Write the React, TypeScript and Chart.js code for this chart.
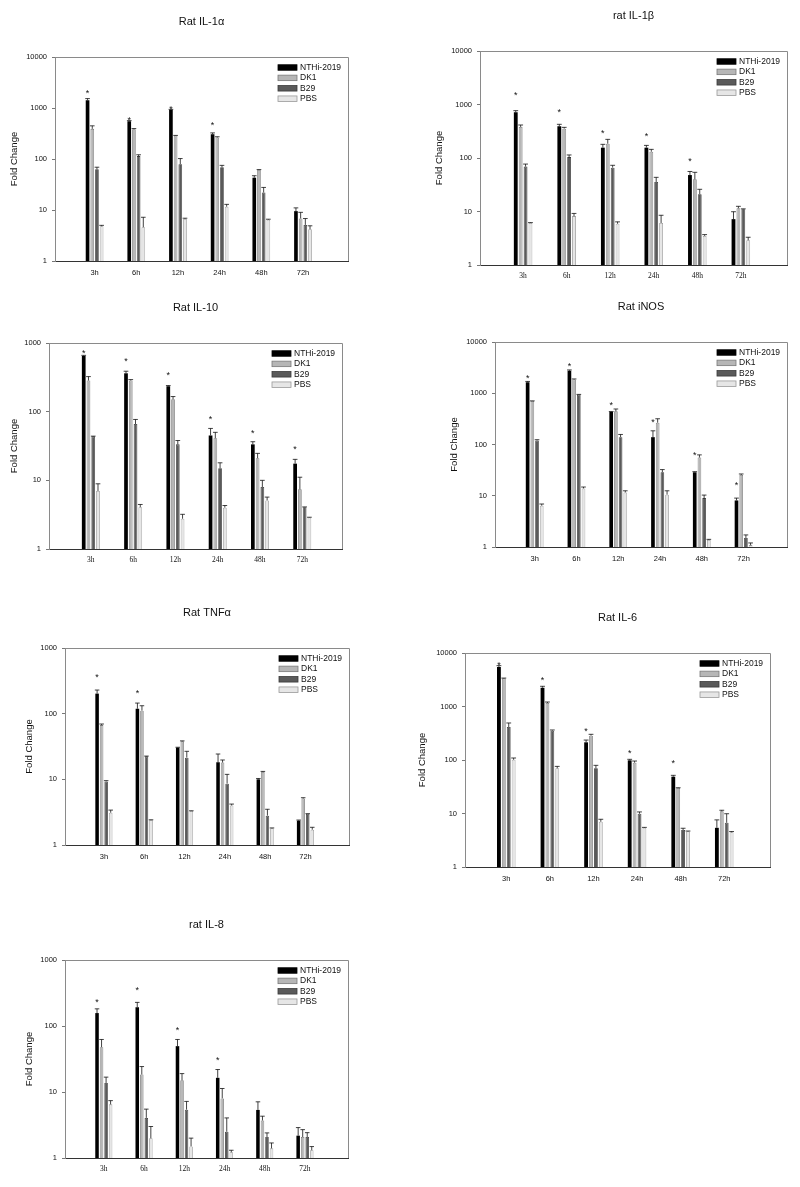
import React, { useEffect, useRef } from 'react';
import { Chart, registerables } from 'chart.js';

Chart.register(...registerables);

// ---------- shared labels ----------
const timeLabels = ['3h', '6h', '12h', '24h', '48h', '72h'];
const seriesNames = ['NTHi-2019', 'DK1', 'B29', 'PBS'];
const ticks4 = [1, 10, 100, 1000, 10000];
const ticks3 = [1, 10, 100, 1000];

// ---------- Rat IL-1α ----------
const il1aNTHi = [1420, 550, 920, 306, 43, 9.5];
const il1aDK1 = [390, 384, 288, 264, 61, 6.8];
const il1aB29 = [63, 114, 79, 69, 22, 5.1];
const il1aPBS = [4.8, 4.6, 6.7, 11.6, 6.45, 4.2];
const il1aNTHiErr = [1530, 565, 940, 325, 47, 11];
const il1aDK1Err = [447, 395, 290, 273, 62, 9];
const il1aB29Err = [69, 121, 102, 75, 27.7, 6.8];
const il1aPBSErr = [5, 7.2, 6.9, 12.9, 6.6, 4.9];
const il1aStars = [2225, 640, 1066, 511, null, null];

// ---------- rat IL-1β ----------
const il1bNTHi = [714, 391, 156, 156, 48, 7.2];
const il1bDK1 = [380, 354, 185, 131, 40, 11.5];
const il1bB29 = [69, 104, 66, 35.6, 21, 11];
const il1bPBS = [6.1, 8.2, 5.9, 6.1, 3.5, 2.9];
const il1bNTHiErr = [767, 426, 180, 172, 56, 9.9];
const il1bDK1Err = [414, 374, 223, 145, 54, 12.5];
const il1bB29Err = [77, 114, 73, 43.5, 26, 11.2];
const il1bPBSErr = [6.2, 9.2, 6.4, 8.5, 3.7, 3.3];
const il1bStars = [1640, 800, 329, 289, 97, null];

// ---------- Rat IL-10 ----------
const il10NTHi = [647, 362, 235, 45, 33.4, 17.5];
const il10DK1 = [284, 284, 152, 41, 21, 7.4];
const il10B29 = [43.7, 66, 33.4, 15, 8.0, 4.07];
const il10PBS = [7.0, 4.07, 2.76, 4.0, 5.1, 2.88];
const il10NTHiErr = [661, 388, 240, 57, 36.5, 20.2];
const il10DK1Err = [324, 293, 166, 50, 24.7, 11.1];
const il10B29Err = [44, 77, 38, 18, 10, 4.1];
const il10PBSErr = [8.9, 4.45, 3.2, 4.3, 5.7, 2.9];
const il10Stars = [782, 598, 366, 84, 53, 31];

// ---------- Rat iNOS ----------
const inosNTHi = [1644, 2741, 430, 139, 28.7, 8.1];
const inosDK1 = [707, 1854, 444, 266, 55.6, 25.4];
const inosB29 = [120, 942, 139, 28.7, 9.0, 1.5];
const inosPBS = [6.4, 13.9, 11.6, 10.5, 1.37, 1.09];
const inosNTHiErr = [1700, 2850, 440, 185, 29.5, 9.0];
const inosDK1Err = [710, 1900, 493, 318, 62.7, 26.6];
const inosB29Err = [124, 950, 157, 32.4, 10.3, 1.72];
const inosPBSErr = [6.9, 14.8, 12.5, 12.5, 1.41, 1.2];
const inosStars = [2187, 3820, 666, 309, 68.7, 18];

// ---------- Rat TNFα ----------
const tnfNTHi = [202, 119, 30.4, 18.2, 10, 2.35];
const tnfDK1 = [67, 111, 37.9, 18, 12.9, 5.1];
const tnfB29 = [9.3, 22.4, 21.4, 8.6, 2.8, 3.0];
const tnfPBS = [3.1, 2.4, 3.3, 4.0, 1.8, 1.71];
const tnfNTHiErr = [229, 145, 30.8, 24.3, 10.3, 2.4];
const tnfDK1Err = [69.6, 132, 38.5, 19.7, 13.2, 5.25];
const tnfB29Err = [9.55, 22.6, 26.7, 11.9, 3.5, 3.0];
const tnfPBSErr = [3.4, 2.42, 3.32, 4.2, 1.82, 1.86];
const tnfStars = [393, 224, null, null, null, null];

// ---------- Rat IL-6 ----------
const il6NTHi = [5476, 2250, 214, 98.6, 48.8, 5.4];
const il6DK1 = [3360, 1162, 285, 89, 30, 11];
const il6B29 = [414, 353, 70, 9.9, 4.9, 6.7];
const il6PBS = [101, 70, 7.0, 5.4, 4.6, 4.45];
const il6NTHiErr = [5800, 2385, 236, 103, 51.7, 7.6];
const il6DK1Err = [3400, 1213, 302, 95.7, 30.3, 11.5];
const il6B29Err = [492, 364, 79.5, 10.7, 5.3, 9.9];
const il6PBSErr = [109, 76, 7.8, 5.5, 4.7, 4.6];
const il6Stars = [6690, 3510, 380, 149, 98.6, null];

// ---------- rat IL-8 ----------
const il8NTHi = [157, 193, 49.5, 16.4, 5.35, 2.18];
const il8DK1 = [47.8, 18.4, 15.1, 8.0, 3.7, 2.08];
const il8B29 = [13.7, 4.05, 5.4, 2.5, 2.08, 2.08];
const il8PBS = [6.5, 1.99, 1.5, 1.22, 1.4, 1.31];
const il8NTHiErr = [182, 228, 62.5, 21.9, 7.1, 2.89];
const il8DK1Err = [62.5, 24.3, 19, 11.3, 4.3, 2.69];
const il8B29Err = [16.8, 5.5, 7.2, 4.05, 2.4, 2.42];
const il8PBSErr = [7.4, 3.0, 2.0, 1.31, 1.69, 1.49];
const il8Stars = [250, 384, 93, 33.3, null, null];

// ---------- styles ----------
const SANS = '"Liberation Sans", Arial, sans-serif';
const SERIF = '"Liberation Serif", "Times New Roman", serif';
const fills = ['#000000', '#b6b6b6', '#5a5a5a', '#e6e6e6'];
const borders = ['#000000', '#7a7a7a', '#3a3a3a', '#9a9a9a'];

type Area = { l: number; t: number; r: number; b: number };
type PanelDef = {
  title: string;
  vals: number[][];
  errs: number[][];
  stars: (number | null)[];
  yTicks: number[];
  xRange: [number, number];
  area: Area;
  xFont: string;
  yTitleGap: number;
};

const PANELS: PanelDef[] = [
  {
    title: 'Rat IL-1\u03b1',
    vals: [il1aNTHi, il1aDK1, il1aB29, il1aPBS],
    errs: [il1aNTHiErr, il1aDK1Err, il1aB29Err, il1aPBSErr],
    stars: il1aStars, yTicks: ticks4, xRange: [-0.95, 6.08],
    area: { l: 55, t: 57, r: 348, b: 261 }, xFont: SANS, yTitleGap: 41,
  },
  {
    title: 'rat IL-1\u03b2',
    vals: [il1bNTHi, il1bDK1, il1bB29, il1bPBS],
    errs: [il1bNTHiErr, il1bDK1Err, il1bB29Err, il1bPBSErr],
    stars: il1bStars, yTicks: ticks4, xRange: [-0.99, 6.06],
    area: { l: 480, t: 51, r: 787, b: 265 }, xFont: SERIF, yTitleGap: 41,
  },
  {
    title: 'Rat IL-10',
    vals: [il10NTHi, il10DK1, il10B29, il10PBS],
    errs: [il10NTHiErr, il10DK1Err, il10B29Err, il10PBSErr],
    stars: il10Stars, yTicks: ticks3, xRange: [-0.99, 5.94],
    area: { l: 49, t: 343, r: 342, b: 549 }, xFont: SERIF, yTitleGap: 35,
  },
  {
    title: 'Rat iNOS',
    vals: [inosNTHi, inosDK1, inosB29, inosPBS],
    errs: [inosNTHiErr, inosDK1Err, inosB29Err, inosPBSErr],
    stars: inosStars, yTicks: ticks4, xRange: [-0.95, 6.04],
    area: { l: 495, t: 342, r: 787, b: 547 }, xFont: SANS, yTitleGap: 41,
  },
  {
    title: 'Rat TNF\u03b1',
    vals: [tnfNTHi, tnfDK1, tnfB29, tnfPBS],
    errs: [tnfNTHiErr, tnfDK1Err, tnfB29Err, tnfPBSErr],
    stars: tnfStars, yTicks: ticks3, xRange: [-0.965, 6.08],
    area: { l: 65, t: 648, r: 349, b: 845 }, xFont: SANS, yTitleGap: 36,
  },
  {
    title: 'Rat IL-6',
    vals: [il6NTHi, il6DK1, il6B29, il6PBS],
    errs: [il6NTHiErr, il6DK1Err, il6B29Err, il6PBSErr],
    stars: il6Stars, yTicks: ticks4, xRange: [-0.947, 6.05],
    area: { l: 465, t: 653, r: 770, b: 867 }, xFont: SANS, yTitleGap: 43,
  },
  {
    title: 'rat IL-8',
    vals: [il8NTHi, il8DK1, il8B29, il8PBS],
    errs: [il8NTHiErr, il8DK1Err, il8B29Err, il8PBSErr],
    stars: il8Stars, yTicks: ticks3, xRange: [-0.965, 6.07],
    area: { l: 65, t: 960, r: 348, b: 1158 }, xFont: SERIF, yTitleGap: 36,
  },
];

const Y_AXIS_W = 60;
const TOP_H = 50;
const X_AXIS_H = 30;
const RIGHT_PAD = 10;

function makeDecor(def: PanelDef) {
  return {
    id: 'decor',
    afterDatasetsDraw(chart: any) {
      const { ctx } = chart;
      const ys = chart.scales.y;
      ctx.save();
      ctx.strokeStyle = '#111';
      ctx.lineWidth = 0.8;
      def.errs.forEach((errArr, k) => {
        const meta = chart.getDatasetMeta(k);
        meta.data.forEach((bar: any, i: number) => {
          const e = errArr[i];
          if (e == null) return;
          const p = bar.getProps(['x', 'y', 'width'], true);
          const ye = ys.getPixelForValue(e);
          ctx.beginPath();
          ctx.moveTo(p.x, p.y);
          ctx.lineTo(p.x, ye);
          ctx.moveTo(p.x - p.width / 2 - 0.5, ye);
          ctx.lineTo(p.x + p.width / 2 + 0.5, ye);
          ctx.stroke();
        });
      });
      const fs = 9;
      ctx.fillStyle = '#111';
      ctx.font = `${fs}px ${SANS}`;
      ctx.textAlign = 'center';
      ctx.textBaseline = 'alphabetic';
      const m0 = chart.getDatasetMeta(0);
      def.stars.forEach((s, i) => {
        if (s == null) return;
        const bx = m0.data[i].x;
        const yy = ys.getPixelForValue(s);
        ctx.fillText('*', bx, yy + fs * 0.58);
      });
      ctx.restore();
    },
    afterDraw(chart: any) {
      const { ctx, chartArea: ca } = chart;
      ctx.save();
      // frame top/right
      ctx.strokeStyle = '#8a8a8a';
      ctx.lineWidth = 1;
      ctx.beginPath();
      ctx.moveTo(ca.left, Math.round(ca.top) + 0.5);
      ctx.lineTo(Math.round(ca.right) + 0.5, Math.round(ca.top) + 0.5);
      ctx.lineTo(Math.round(ca.right) + 0.5, ca.bottom);
      ctx.stroke();
      // legend
      const lx = ca.right - 70;
      seriesNames.forEach((name, k) => {
        const cy = ca.top + 10.5 + k * 10.4;
        ctx.fillStyle = fills[k];
        ctx.fillRect(lx, cy - 2.75, 19, 5.5);
        ctx.strokeStyle = borders[k];
        ctx.lineWidth = 0.8;
        ctx.strokeRect(lx, cy - 2.75, 19, 5.5);
        ctx.fillStyle = '#111';
        ctx.font = `8.5px ${SANS}`;
        ctx.textAlign = 'left';
        ctx.textBaseline = 'middle';
        ctx.fillText(name, lx + 22, cy);
      });
      ctx.restore();
    },
  };
}

function Panel({ def }: { def: PanelDef }) {
  const ref = useRef<HTMLCanvasElement>(null);
  const { l, t, r, b } = def.area;
  const left = Math.round(l) - Y_AXIS_W;
  const top = Math.round(t) - TOP_H;
  const width = Math.round(r - l) + Y_AXIS_W + RIGHT_PAD;
  const height = Math.round(b - t) + TOP_H + X_AXIS_H;

  useEffect(() => {
    if (!ref.current) return;
    const datasets = seriesNames.map((name, k) => ({
      label: name,
      data: def.vals[k].map((v, i) => ({ x: i, y: v })),
      backgroundColor: fills[k],
      borderColor: borders[k],
      borderWidth: k === 0 ? 0 : 0.8,
      categoryPercentage: 0.45,
      barPercentage: 0.78,
    }));
    const chart = new Chart(ref.current, {
      type: 'bar',
      data: { datasets },
      options: {
        responsive: false,
        animation: false,
        events: [],
        layout: { padding: { left: 0, top: 0, right: RIGHT_PAD, bottom: 0 } },
        plugins: {
          legend: { display: false },
          tooltip: { enabled: false },
          title: {
            display: true,
            text: def.title,
            fullSize: false,
            color: '#111',
            font: { family: SANS, size: 11, weight: 'normal' },
            padding: { top: 8.4, bottom: TOP_H - 8.4 - 13.2 },
          },
        },
        scales: {
          x: {
            type: 'linear',
            offset: false,
            min: def.xRange[0],
            max: def.xRange[1],
            grid: { display: false, drawTicks: false, offset: false },
            border: { display: true, color: '#333', width: 1 },
            ticks: {
              autoSkip: false,
              maxRotation: 0,
              padding: 7,
              color: '#111',
              font: { family: def.xFont, size: 7.5 },
              callback: (_v: any, i: number) => timeLabels[i] ?? '',
            },
            afterBuildTicks: (axis: any) => {
              axis.ticks = timeLabels.map((_, i) => ({ value: i }));
            },
            afterFit: (axis: any) => {
              axis.height = X_AXIS_H;
            },
          },
          y: {
            type: 'logarithmic',
            min: def.yTicks[0],
            max: def.yTicks[def.yTicks.length - 1],
            grid: { display: true, drawOnChartArea: false, drawTicks: true, tickLength: 3, color: '#777' },
            border: { display: true, color: '#8a8a8a', width: 1 },
            ticks: {
              padding: 5,
              color: '#111',
              font: { family: SANS, size: 7.5 },
              callback: (v: any) => String(v),
            },
            afterBuildTicks: (axis: any) => {
              axis.ticks = def.yTicks.map((v) => ({ value: v }));
            },
            title: {
              display: true,
              text: 'Fold Change',
              color: '#111',
              font: { family: SANS, size: 9.5 },
              padding: { top: Y_AXIS_W - def.yTitleGap - 5.7, bottom: 0 },
            },
            afterFit: (axis: any) => {
              axis.width = Y_AXIS_W;
            },
          },
        },
      } as any,
      plugins: [makeDecor(def) as any],
    });
    return () => chart.destroy();
  }, [def]);

  return (
    <canvas
      ref={ref}
      width={width}
      height={height}
      style={{ position: 'absolute', left, top, width, height }}
    />
  );
}

export default function App() {
  return (
    <div style={{ position: 'absolute', left: 0, top: 0, width: 800, height: 1187, background: '#fff' }}>
      {PANELS.map((p) => (
        <Panel key={p.title} def={p} />
      ))}
    </div>
  );
}
